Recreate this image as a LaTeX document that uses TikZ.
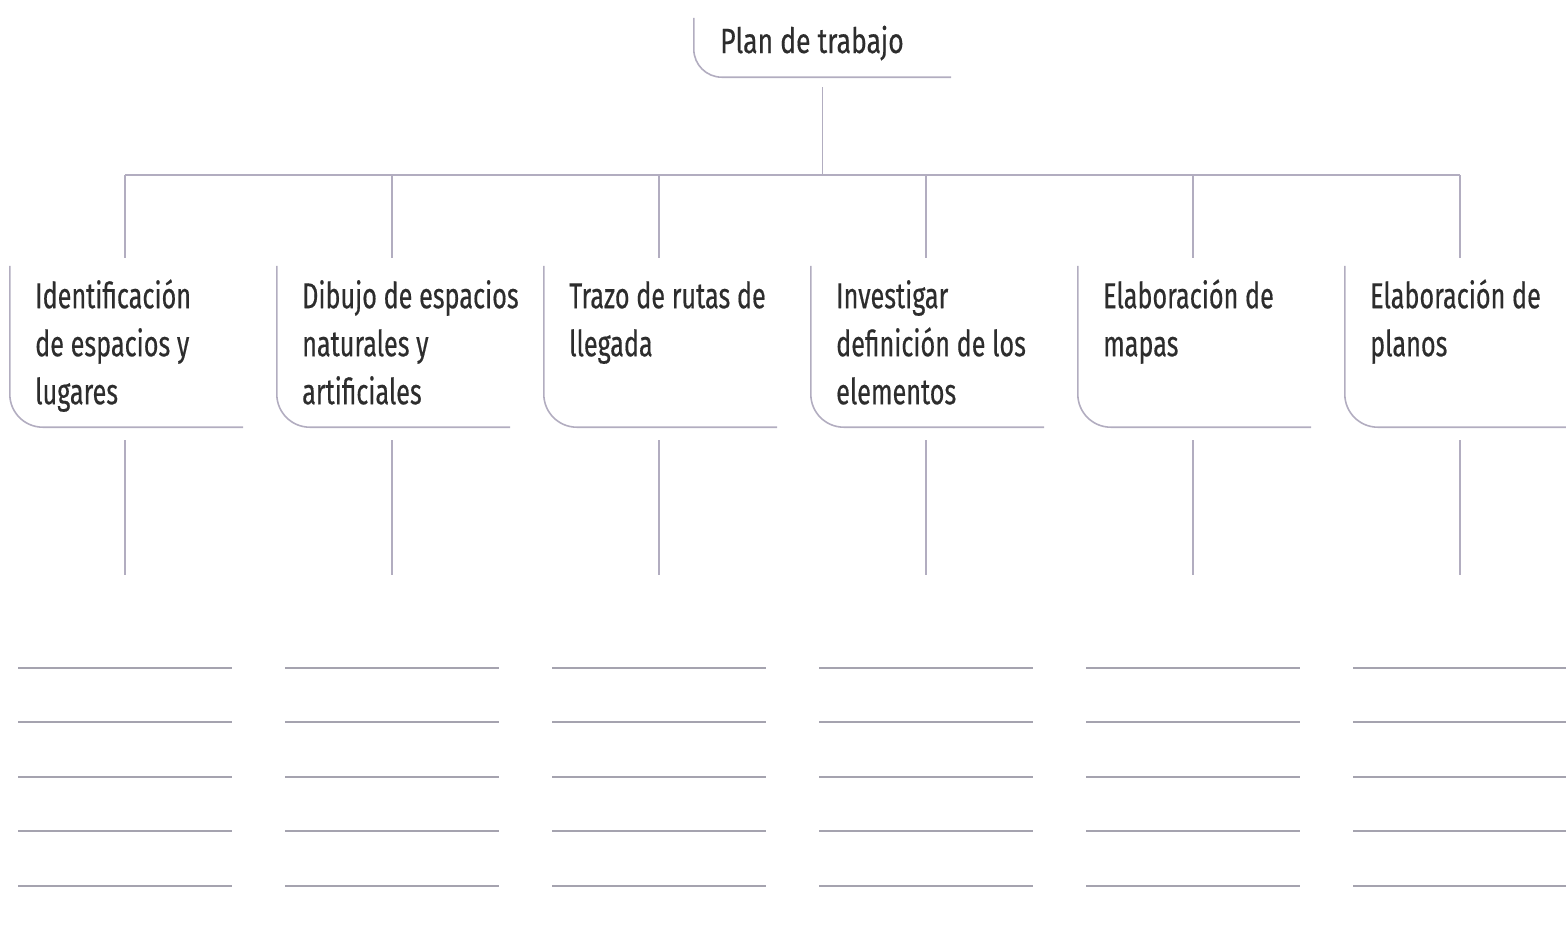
\documentclass[tikz,border=0pt]{standalone}
\usepackage{fontspec}
\setmainfont{Fira Sans}[FakeStretch=0.70,FakeBold=0.4]
\newfontfamily\titlefont{Fira Sans}[FakeStretch=0.76,FakeBold=0.4]
\definecolor{lnc}{RGB}{178,173,192}
\definecolor{anc}{RGB}{165,163,175}
\definecolor{txc}{RGB}{45,45,45}
\begin{document}
\begin{tikzpicture}[x=1pt,y=-1pt,
  ln/.style={draw=lnc, line width=1.6pt},
  ans/.style={draw=anc, line width=1.8pt},
  framebox/.style={minimum width=233pt, minimum height=161pt, inner sep=0pt, draw=none},
  lbl/.style={anchor=north west, inner sep=0pt, align=left, text=txc, font=\fontsize{36}{48}\selectfont},
  ttl/.style={anchor=base west, inner sep=0pt, text=txc, font=\titlefont\fontsize{35}{40}\selectfont}]
\useasboundingbox (0,0) rectangle (1566,938);
% top node
\node[minimum width=257pt, minimum height=59pt, inner sep=0pt] (top) at (822.5,47.5) {};
\draw[ln, rounded corners=28pt] (top.north west) -- (top.south west) -- (top.south east);
\node[ttl] (title) at (720,53) {Plan de trabajo};
% bar
\coordinate (bl) at (125,175);
\coordinate (br) at (1460,175);
\draw[ln] (bl) -- (br);
\draw[ln] ([yshift=-10pt]top.south) -- (top.south |- bl);
\foreach \i/\c/\txt in {
  1/125/{Identificación\\de espacios y\\lugares},
  2/392/{Dibujo de espacios\\naturales y\\artificiales},
  3/659/{Trazo de rutas de\\llegada},
  4/926/{Investigar\\definición de los\\elementos},
  5/1193/{Elaboración de\\mapas},
  6/1460/{Elaboración de\\planos}}{
  \coordinate (h\i) at (\c,175);
  \coordinate (d\i) at (\c,575);
  \node[framebox] (f\i) at (\c+1.5,346.5) {};
  \draw[ln, rounded corners=33pt] (f\i.north west) -- (f\i.south west) -- (f\i.south east);
  \node[lbl] (t\i) at (\c-90,278) {\rule{0pt}{30pt}\txt};
  \draw[ln] (h\i) -- ([yshift=8pt]f\i.north -| h\i);
  \draw[ln] ([yshift=-13pt]f\i.south -| h\i) -- (d\i);
  \foreach \y in {668,722,777,831,886}{
    \draw[ans] (\c-107,\y) -- (\c+107,\y);
  }
}
\end{tikzpicture}
\end{document}
